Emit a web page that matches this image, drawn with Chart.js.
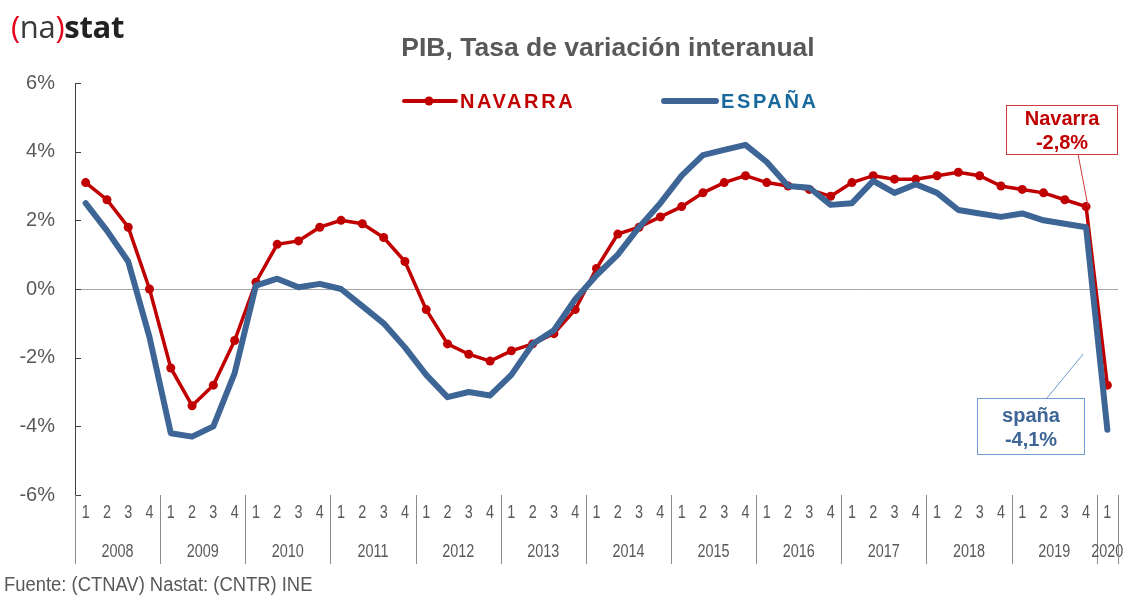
<!DOCTYPE html>
<html>
<head>
<meta charset="utf-8">
<script src="https://cdn.jsdelivr.net/npm/chart.js@4.4.1/dist/chart.umd.min.js"></script>
<style>
    body { margin: 0; background: #fff; }
    #wrap { position: relative; width: 1130px; height: 604px; overflow: hidden; }
    #pibChart { position: absolute; left: 0; top: 0; }
    .logo { position: absolute; left: 11px; top: 7px; font-family: 'Open Sans', sans-serif; font-size: 31px; line-height: 38px; color: #3a3a3a; letter-spacing: -0.3px; }
    .logo .p { color: #e2001a; }
    .logo b { color: #222; font-weight: 700; }
    .title { position: absolute; left: 0; width: 1130px; top: 32px; padding-left: 86px; box-sizing: border-box; text-align: center; font-family: 'Liberation Sans', Arial, sans-serif; font-weight: bold; font-size: 26.5px; color: #595959; }
    .source { position: absolute; left: 4px; top: 573px; font-family: 'Liberation Sans', Arial, sans-serif; font-size: 20px; color: #595959; transform: scaleX(0.92); transform-origin: 0 0; white-space: nowrap; }
</style>
</head>
<body>
<div id="wrap">
    <canvas id="pibChart" width="1130" height="604"></canvas>
    <div class="logo"><span class="p">(</span>na<span class="p">)</span><b>stat</b></div>
    <div class="title">PIB, Tasa de variación interanual</div>
    <div class="source">Fuente: (CTNAV) Nastat: (CNTR) INE</div>
</div>
<script>
    var years = ['2008', '2009', '2010', '2011', '2012', '2013', '2014', '2015', '2016', '2017', '2018', '2019', '2020'];
    var quarters = [
        '1', '2', '3', '4', '1', '2', '3', '4', '1', '2', '3', '4', '1', '2', '3', '4',
        '1', '2', '3', '4', '1', '2', '3', '4', '1', '2', '3', '4', '1', '2', '3', '4',
        '1', '2', '3', '4', '1', '2', '3', '4', '1', '2', '3', '4', '1', '2', '3', '4',
        '1'
    ];
    // % variacion interanual
    var navarra = [
        3.1, 2.6, 1.8, 0.0, -2.3, -3.4, -2.8, -1.5, 0.2, 1.3, 1.4, 1.8,
        2.0, 1.9, 1.5, 0.8, -0.6, -1.6, -1.9, -2.1, -1.8, -1.6, -1.3, -0.6,
        0.6, 1.6, 1.8, 2.1, 2.4, 2.8, 3.1, 3.3, 3.1, 3.0, 2.9, 2.7,
        3.1, 3.3, 3.2, 3.2, 3.3, 3.4, 3.3, 3.0, 2.9, 2.8, 2.6, 2.4,
        -2.8
    ];
    var espana = [
        2.5, 1.7, 0.8, -1.4, -4.2, -4.3, -4.0, -2.45, 0.1, 0.3, 0.05, 0.15,
        0.0, -0.5, -1.0, -1.7, -2.5, -3.15, -3.0, -3.1, -2.5, -1.6, -1.2, -0.3,
        0.4, 1.0, 1.8, 2.5, 3.3, 3.9, 4.05, 4.2, 3.7, 3.0, 2.95, 2.45,
        2.5, 3.15, 2.8, 3.05, 2.8, 2.3, 2.2, 2.1, 2.2, 2.0, 1.9, 1.8,
        -4.1
    ];
    var yTicks = [-6, -4, -2, 0, 2, 4, 6];

    var RED = '#c00000';
    var BLUE = '#3d6595';
    var SANS = "'Liberation Sans', Arial, sans-serif";

    // narrow looking text (no Arial Narrow here, so squeeze it)
    function narrowText(ctx, txt, x, y) {
        ctx.save();
        ctx.translate(x, y);
        ctx.scale(0.8, 1);
        ctx.fillText(txt, 0, 0);
        ctx.restore();
    }

    // decoration: axis rows, legend, callouts
    var decor = {
        id: 'decor',
        afterDraw: function(chart) {
            var ctx = chart.ctx, xs = chart.scales.x, ys = chart.scales.y, area = chart.chartArea;
            var half = (xs.getPixelForValue(1) - xs.getPixelForValue(0)) / 2;
            ctx.save();

            // small inner ticks on the y axis
            ctx.strokeStyle = '#404040';
            ctx.lineWidth = 1;
            yTicks.forEach(function(v) {
                var py = Math.round(ys.getPixelForValue(v)) + 0.5;
                ctx.beginPath();
                ctx.moveTo(area.left, py);
                ctx.lineTo(area.left + 6, py);
                ctx.stroke();
            });

            // quarter row
            ctx.fillStyle = '#595959';
            ctx.font = '18px ' + SANS;
            ctx.textAlign = 'center';
            ctx.textBaseline = 'middle';
            quarters.forEach(function(q, i) {
                narrowText(ctx, q, xs.getPixelForValue(i), area.bottom + 18);
            });

            // year separators + year labels
            ctx.strokeStyle = '#8c8c8c';
            var starts = [];
            quarters.forEach(function(q, i) { if (q === '1') starts.push(i); });
            starts.forEach(function(s, k) {
                var e = k + 1 < starts.length ? starts[k + 1] - 1 : quarters.length - 1;
                var left = Math.round(xs.getPixelForValue(s) - half) + 0.5;
                ctx.beginPath();
                ctx.moveTo(left, area.bottom);
                ctx.lineTo(left, area.bottom + 69);
                ctx.stroke();
                var mid = (xs.getPixelForValue(s) + xs.getPixelForValue(e)) / 2;
                narrowText(ctx, years[k], mid, area.bottom + 57);
            });
            var rgt = Math.round(area.right) + 0.5;
            ctx.beginPath();
            ctx.moveTo(rgt, area.bottom);
            ctx.lineTo(rgt, area.bottom + 69);
            ctx.stroke();

            // legend
            ctx.lineCap = 'round';
            ctx.strokeStyle = RED;
            ctx.lineWidth = 4;
            ctx.beginPath();
            ctx.moveTo(404, 101);
            ctx.lineTo(456, 101);
            ctx.stroke();
            ctx.fillStyle = RED;
            ctx.beginPath();
            ctx.arc(429, 101, 4.5, 0, Math.PI * 2);
            ctx.fill();
            ctx.strokeStyle = BLUE;
            ctx.lineWidth = 6;
            ctx.beginPath();
            ctx.moveTo(664, 101);
            ctx.lineTo(716, 101);
            ctx.stroke();
            ctx.font = 'bold 20px ' + SANS;
            ctx.textAlign = 'left';
            if ('letterSpacing' in ctx) ctx.letterSpacing = '2.6px';
            ctx.fillStyle = RED;
            ctx.fillText('NAVARRA', 460, 102);
            ctx.fillStyle = '#17699c';
            ctx.fillText('ESPAÑA', 721, 102);
            if ('letterSpacing' in ctx) ctx.letterSpacing = '0px';

            // callouts
            var last = quarters.length - 2;
            ctx.lineCap = 'butt';
            ctx.lineWidth = 1;
            ctx.strokeStyle = '#d0393e';
            ctx.beginPath();
            ctx.moveTo(1078, 154);
            ctx.lineTo(xs.getPixelForValue(last) + 2, ys.getPixelForValue(navarra[last]));
            ctx.stroke();
            ctx.strokeRect(1006.5, 105.5, 111, 49);

            ctx.strokeStyle = '#6f9bd1';
            ctx.beginPath();
            ctx.moveTo(1047, 398);
            ctx.lineTo(xs.getPixelForValue(last) - 3, ys.getPixelForValue(-1.9));
            ctx.stroke();
            ctx.strokeRect(977.5, 398.5, 107, 56);

            ctx.font = 'bold 20px ' + SANS;
            ctx.textAlign = 'center';
            ctx.fillStyle = RED;
            ctx.fillText('Navarra', 1062, 119);
            ctx.fillText('-2,8%', 1062, 143);
            ctx.fillStyle = BLUE;
            ctx.fillText('spaña', 1031, 416);
            ctx.fillText('-4,1%', 1031, 440);

            ctx.restore();
        }
    };

    var ctx = document.getElementById('pibChart').getContext('2d');
    var chart = new Chart(ctx, {
        type: 'line',
        data: {
            labels: quarters,
            datasets: [{
                label: 'NAVARRA',
                data: navarra,
                borderColor: RED,
                backgroundColor: RED,
                borderWidth: 3.5,
                pointRadius: 4.5,
                pointBorderWidth: 0,
                pointBackgroundColor: RED,
                tension: 0,
                order: 1
            }, {
                label: 'ESPAÑA',
                data: espana,
                borderColor: BLUE,
                borderWidth: 6,
                pointRadius: 0,
                borderJoinStyle: 'round',
                borderCapStyle: 'round',
                tension: 0,
                order: 0
            }]
        },
        options: {
            responsive: false,
            animation: false,
            layout: { padding: { top: 83, right: 12, left: 0, bottom: 0 } },
            plugins: {
                legend: { display: false },
                title: { display: false },
                tooltip: { enabled: false }
            },
            scales: {
                x: {
                    type: 'category',
                    offset: true,
                    grid: { display: false, drawTicks: false },
                    border: { display: false },
                    ticks: { display: false },
                    afterFit: function(scale) { scale.height = 109; }
                },
                y: {
                    min: -6,
                    max: 6,
                    afterBuildTicks: function(scale) {
                        scale.ticks = yTicks.map(function(v) { return { value: v }; });
                    },
                    grid: {
                        drawTicks: false,
                        color: function(c) { return c.tick && c.tick.value === 0 ? '#a6a6a6' : 'rgba(0,0,0,0)'; },
                        lineWidth: 1
                    },
                    border: { display: true, color: '#404040', width: 1 },
                    ticks: {
                        padding: 20,
                        color: '#595959',
                        font: { family: SANS, size: 20 },
                        callback: function(v) { return v + '%'; }
                    },
                    afterFit: function(scale) { scale.width = 75; }
                }
            }
        },
        plugins: [decor]
    });
</script>
</body>
</html>
